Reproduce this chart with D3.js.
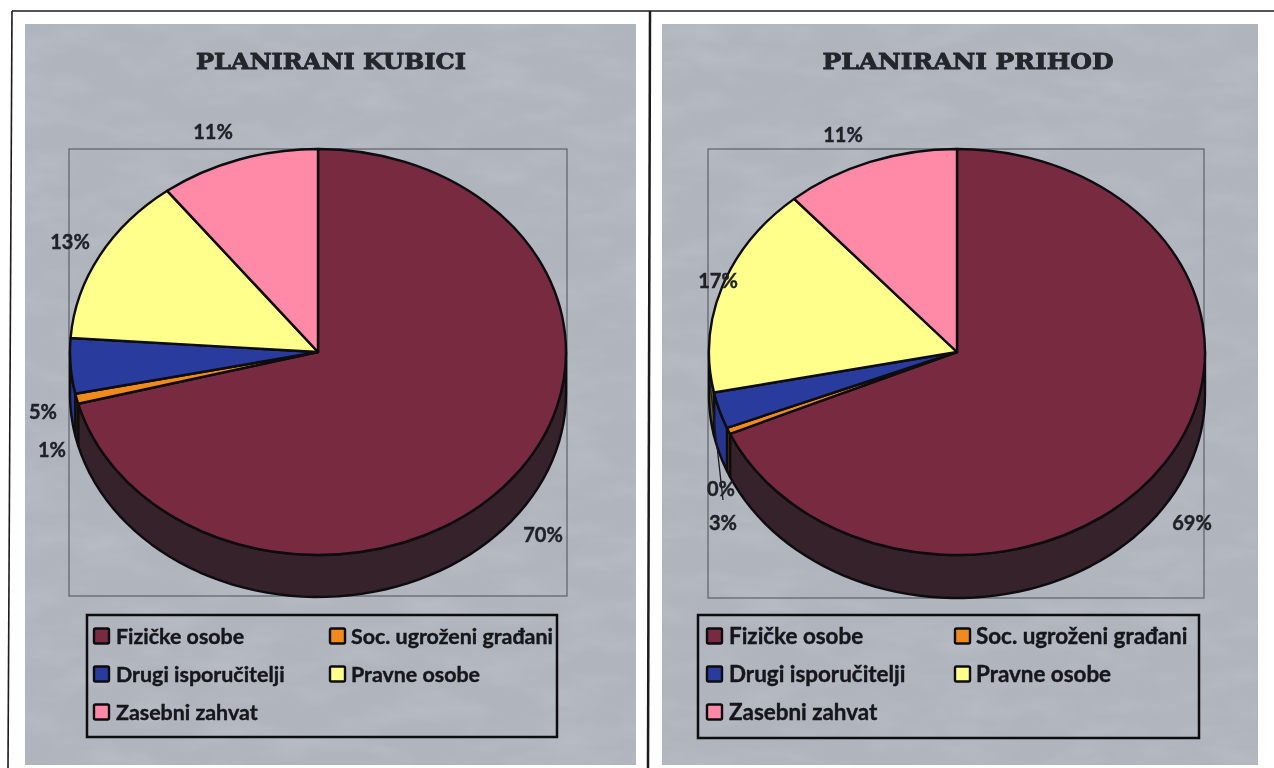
<!DOCTYPE html>
<html>
<head>
<meta charset="utf-8">
<script src="https://cdn.jsdelivr.net/npm/d3@7"></script>
<style>
html, body { margin: 0; padding: 0; background: #fff; }
svg { display: block; }
</style>
</head>
<body>
<svg id="chart" width="1274" height="768"></svg>
<script>
const categories = ["Fizičke osobe", "Soc. ugroženi građani", "Drugi isporučitelji", "Pravne osobe", "Zasebni zahvat"];
const titles = ["PLANIRANI KUBICI", "PLANIRANI PRIHOD"];
// slice sizes, the printed labels are rounded
const kubiciValues = [70.9, 0.8, 4.4, 13.5, 10.4];
const prihodValues = [68.4, 0.5, 2.9, 16.8, 11.4];
const kubiciLabels = ["70%", "1%", "5%", "13%", "11%"];
const prihodLabels = ["69%", "0%", "3%", "17%", "11%"];
const topColors = ["#772b41", "#f08a1d", "#2b3a9e", "#ffff8c", "#ff8aa8"];
const wallColors = ["#36202b", "#6e4210", "#26348f", "#5c5c38", "#8f4f60"];

// where each panel sits on the page
const panels = [
    {
        title: titles[0], values: kubiciValues, labels: kubiciLabels,
        bg: [25, 24, 636, 765], titleX: 331, titleW: 270,
        plot: [69, 149, 567, 596], cx: 318, cy: 352, rx: 248, ry: 203, depth: 42,
        labelPos: [[543, 535], [52, 450], [43, 412], [70, 242], [213, 132]],
        legend: [87, 615, 557, 737], swatchX: [94, 330], textX: [116, 351], legendSize: 21.4
    },
    {
        title: titles[1], values: prihodValues, labels: prihodLabels,
        bg: [662, 24, 1258, 765], titleX: 968, titleW: 291,
        plot: [708, 149, 1204, 598], cx: 957, cy: 352, rx: 248, ry: 203, depth: 43,
        labelPos: [[1192, 523], [721, 489], [723, 523], [718, 281], [843, 135]],
        leader: [[710, 383], [723, 500]],
        legend: [698, 615, 1199, 738], swatchX: [707, 955], textX: [729, 976], legendSize: 22.4
    }
];

const svg = d3.select("#chart");
const defs = svg.append("defs");

// scan look: a bit of blur and grain
defs.append("filter").attr("id", "soft")
    .attr("x", 0).attr("y", 0).attr("width", 1).attr("height", 1)
    .append("feGaussianBlur").attr("stdDeviation", 0.7);
const grain = defs.append("filter").attr("id", "grain")
    .attr("x", 0).attr("y", 0).attr("width", 1).attr("height", 1);
grain.append("feTurbulence").attr("type", "fractalNoise")
    .attr("baseFrequency", "0.015 0.04").attr("numOctaves", 3).attr("seed", 7);
grain.append("feColorMatrix").attr("type", "matrix")
    .attr("values", "0 0 0 0 1  0 0 0 0 1  0 0 0 0 1  1.6 0 0 0 -0.65");
grain.append("feComposite").attr("in2", "SourceGraphic").attr("operator", "in");

const root = svg.append("g").attr("filter", "url(#soft)");
root.append("rect").attr("width", 1274).attr("height", 768).attr("fill", "#fff");

const color = d3.scaleOrdinal().domain(categories).range(topColors);
const wall = d3.scaleOrdinal().domain(categories).range(wallColors);
const pie = d3.pie().sort(null).value(d => d.value);

panels.forEach(p => {
    const data = categories.map((c, i) => ({ name: c, value: p.values[i], label: p.labels[i] }));
    const arcs = pie(data);
    const g = root.append("g");

    const box = (b) => g.append("rect")
        .attr("x", b[0]).attr("y", b[1])
        .attr("width", b[2] - b[0]).attr("height", b[3] - b[1]);

    box(p.bg).attr("fill", "#b0b4bd");
    box(p.bg).attr("fill", "#fff").attr("filter", "url(#grain)").attr("opacity", 0.13);
    box(p.plot).attr("fill", "none").attr("stroke", "#5d6168").attr("stroke-width", 1.2);

    g.append("text")
        .attr("x", p.titleX).attr("y", 69)
        .attr("text-anchor", "middle")
        .attr("textLength", p.titleW).attr("lengthAdjust", "spacingAndGlyphs")
        .style("font-family", "'DejaVu Serif'")
        .style("font-weight", "bold").style("font-size", "23px")
        .attr("fill", "#24262c")
        .attr("stroke", "#24262c").attr("stroke-width", 0.9)
        .text(p.title);

    // side wall, only the front half of the rim can be seen
    const rimX = a => p.cx + p.rx * Math.sin(a);
    const rimY = a => p.cy - p.ry * Math.cos(a);
    const rim = d3.line().x(d => d[0]).y(d => d[1]);
    const front = [Math.PI / 2, 3 * Math.PI / 2];
    arcs.forEach(a => {
        const a0 = Math.max(a.startAngle, front[0]);
        const a1 = Math.min(a.endAngle, front[1]);
        if (a1 <= a0) return;
        const steps = d3.range(0, 61).map(i => a0 + (a1 - a0) * i / 60);
        const pts = steps.map(t => [rimX(t), rimY(t)])
            .concat(steps.slice().reverse().map(t => [rimX(t), rimY(t) + p.depth]));
        g.append("path")
            .attr("d", rim(pts) + "Z")
            .attr("fill", wall(a.data.name))
            .attr("stroke", "#0c0c10").attr("stroke-width", 2.4)
            .attr("stroke-linejoin", "round");
    });

    // top face, a round pie squeezed into an ellipse
    const arc = d3.arc().innerRadius(0).outerRadius(p.rx);
    g.append("g")
        .attr("transform", `translate(${p.cx},${p.cy}) scale(1,${p.ry / p.rx})`)
        .selectAll("path")
        .data(arcs)
        .enter()
        .append("path")
        .attr("d", arc)
        .attr("fill", d => color(d.data.name))
        .attr("stroke", "#0c0c10")
        .attr("stroke-width", 2.4)
        .attr("stroke-linejoin", "round")
        .attr("vector-effect", "non-scaling-stroke");

    // the one leader line on the right pie
    if (p.leader) {
        g.append("line")
            .attr("x1", p.leader[0][0]).attr("y1", p.leader[0][1])
            .attr("x2", p.leader[1][0]).attr("y2", p.leader[1][1])
            .attr("stroke", "#1a1a1e").attr("stroke-width", 1.3);
    }

    // data labels
    g.selectAll("text.pct")
        .data(arcs)
        .enter()
        .append("text")
        .attr("class", "pct")
        .attr("x", (d, i) => p.labelPos[i][0])
        .attr("y", (d, i) => p.labelPos[i][1])
        .attr("dy", "0.36em")
        .attr("text-anchor", "middle")
        .style("font-family", "Lato")
        .style("font-weight", "bold").style("font-size", "20px")
        .attr("fill", "#202228")
        .attr("stroke", "#202228").attr("stroke-width", 0.4)
        .text(d => d.data.label);

    // legend box
    box(p.legend).attr("fill", "none").attr("stroke", "#0c0c10").attr("stroke-width", 2.5);

    const rowY = d3.scalePoint().domain([0, 1, 2]).range([636, 712]);
    const legendItems = g.selectAll("g.item")
        .data(categories)
        .enter()
        .append("g")
        .attr("class", "item")
        .attr("transform", (d, i) => `translate(0,${rowY(Math.floor(i / 2))})`);

    legendItems.append("rect")
        .attr("x", (d, i) => p.swatchX[i % 2])
        .attr("y", -7.5).attr("width", 15).attr("height", 15)
        .attr("rx", 1.5)
        .attr("fill", d => color(d))
        .attr("stroke", "#0c0c10").attr("stroke-width", 2.4);

    legendItems.append("text")
        .attr("x", (d, i) => p.textX[i % 2])
        .attr("dy", "0.36em")
        .style("font-family", "Lato")
        .style("font-weight", "bold").style("font-size", p.legendSize + "px")
        .attr("fill", "#14151a")
        .attr("stroke", "#14151a").attr("stroke-width", 0.4)
        .text(d => d);
});

// page frame and the divider from the scan
const frame = [
    [[12, 11], [1274, 11]],
    [[12, 11], [8, 768]],
    [[650, 11], [648, 768]]
];
root.selectAll("line.frame")
    .data(frame)
    .enter()
    .append("line")
    .attr("class", "frame")
    .attr("x1", d => d[0][0]).attr("y1", d => d[0][1])
    .attr("x2", d => d[1][0]).attr("y2", d => d[1][1])
    .attr("stroke", "#1a1a1e")
    .attr("stroke-width", (d, i) => i == 2 ? 2.5 : 1.6);
</script>
</body>
</html>
